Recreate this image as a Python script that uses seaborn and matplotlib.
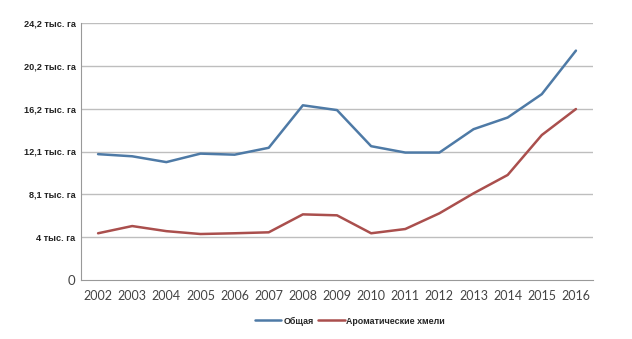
import matplotlib
matplotlib.use("Agg")
import matplotlib.pyplot as plt
import seaborn as sns
import pandas as pd
import numpy as np

years = [2002, 2003, 2004, 2005, 2006, 2007, 2008, 2009, 2010, 2011, 2012, 2013, 2014, 2015, 2016]
total = [11.85, 11.65, 11.1, 11.9, 11.8, 12.45, 16.45, 16.0, 12.6, 12.0, 12.0, 14.2, 15.3, 17.5, 21.6]
aroma = [4.4, 5.08, 4.6, 4.33, 4.4, 4.49, 6.18, 6.09, 4.4, 4.8, 6.28, 8.16, 9.89, 13.65, 16.1]
series_names = ["Общая", "Ароматические хмели"]
ytick_labels = ["0", "4 тыс. га", "8,1 тыс. га", "12,1 тыс. га", "16,2 тыс. га", "20,2 тыс. га", "24,2 тыс. га"]
ymax = 24.2

df = pd.DataFrame({
    "year": years * 2,
    "value": total + aroma,
    "series": [series_names[0]] * len(years) + [series_names[1]] * len(years),
})

sns.set_style("white")
plt.rcParams['font.family'] = ['Lato', 'DejaVu Sans']
bold_family = ['Liberation Sans Narrow', 'Liberation Sans', 'DejaVu Sans']

fig = plt.figure(figsize=(6.32, 3.39), dpi=100)
ax = fig.add_axes([81/632, 1-280/339, (593-81)/632, (280-23)/339])

palette = {series_names[0]: "#4E7AA6", series_names[1]: "#AA4F4D"}
sns.lineplot(data=df, x="year", y="value", hue="series", palette=palette,
             linewidth=1.8, ax=ax, legend=True)

ax.set_xlim(years[0] - 0.5, years[-1] + 0.5)
ax.set_ylim(0, ymax)
yt = np.linspace(0, ymax, len(ytick_labels))
ax.set_yticks(yt)
ax.set_yticklabels(ytick_labels, fontsize=6.6, fontweight="bold", color="#222222",
                   family=bold_family)
lbl0 = ax.get_yticklabels()[0]
lbl0.set_fontweight("normal")
lbl0.set_fontsize(9.5)
lbl0.set_family(['Lato', 'DejaVu Sans'])
lbl0.set_color("#444444")
ax.set_xticks(years)
ax.set_xticklabels([str(y) for y in years], fontsize=9, color="#444444")
ax.set_xticks(np.arange(years[0] - 0.5, years[-1] + 1.0, 1.0), minor=True)
ax.tick_params(axis="x", which="major", length=0, pad=7)
ax.tick_params(axis="x", which="minor", length=5, color="#999999", width=0.8, direction="out")
ax.tick_params(axis="y", which="major", length=3, color="#999999", width=0.8, direction="out", pad=1)

for v in yt[1:]:
    ax.axhline(v, color="#BEBEBE", linewidth=1.0, zorder=0)

for s in ["top", "right"]:
    ax.spines[s].set_visible(False)
for s in ["left", "bottom"]:
    ax.spines[s].set_color("#999999")
    ax.spines[s].set_linewidth(0.8)

ax.set_xlabel("")
ax.set_ylabel("")

handles, labels = ax.get_legend_handles_labels()
leg = ax.legend(handles, labels, loc="center", ncol=2,
                frameon=False, prop={"size": 6.4, "weight": "bold", "family": bold_family},
                handlelength=3.0, columnspacing=0.5, handletextpad=0.2)
leg.set_bbox_to_anchor((350/632, 1 - 321/339), transform=fig.transFigure)

fig.savefig("out.png", dpi=100)
